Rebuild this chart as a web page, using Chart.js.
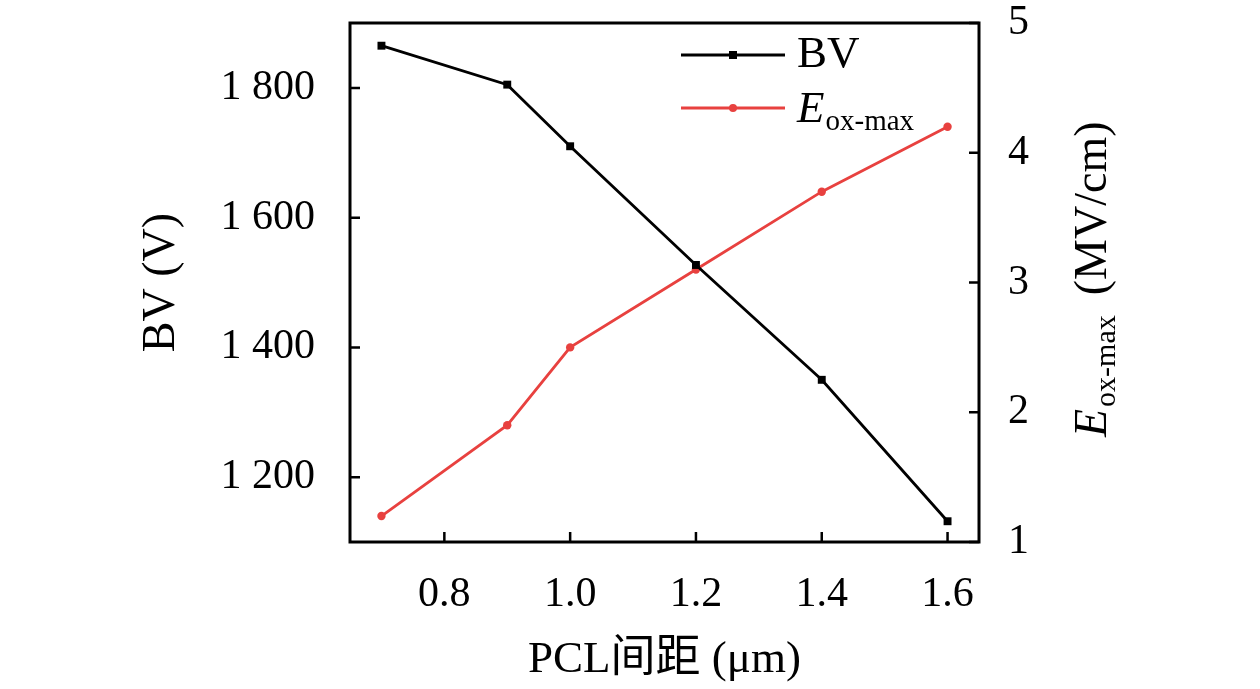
<!DOCTYPE html>
<html>
<head>
<meta charset="utf-8">
<script src="https://cdn.jsdelivr.net/npm/chart.js@4"></script>
<style>
  html, body { margin: 0; padding: 0; background: #fff; }
  #chart { display: block; }
</style>
</head>
<body>
<canvas id="chart" width="1260" height="689"></canvas>
<script>
// PCL spacing (um)
const spacing = [0.7, 0.9, 1.0, 1.2, 1.4, 1.6];
// breakdown voltage (V)
const bvValues = [1865, 1805, 1710, 1527, 1350, 1132];
// max oxide field (MV/cm)
const eoxValues = [1.2, 1.9, 2.5, 3.1, 3.7, 4.2];

const xTicks = [0.8, 1.0, 1.2, 1.4, 1.6];
const bvTicks = [1200, 1400, 1600, 1800];
const eoxTicks = [1, 2, 3, 4, 5];

const SERIF = '"Liberation Serif", "Noto Sans CJK SC", serif';
const RED = '#e8413f';

const fmtThousands = v => String(v).replace(/\B(?=(\d{3})+(?!\d))/g, ' ');

// frame, inward ticks, legend and right axis title
const decorPlugin = {
  id: 'decor',
  afterDraw(chart) {
    const { ctx, chartArea: a, scales } = chart;
    ctx.save();
    ctx.strokeStyle = '#000';
    ctx.lineWidth = 3;
    ctx.strokeRect(a.left, a.top, a.right - a.left, a.bottom - a.top);

    const tl = 10;
    ctx.lineWidth = 2.5;
    ctx.beginPath();
    xTicks.forEach(v => {
      const x = scales.x.getPixelForValue(v);
      ctx.moveTo(x, a.bottom); ctx.lineTo(x, a.bottom - tl);
    });
    bvTicks.forEach(v => {
      const y = scales.y.getPixelForValue(v);
      ctx.moveTo(a.left, y); ctx.lineTo(a.left + tl, y);
    });
    eoxTicks.forEach(v => {
      const y = scales.y2.getPixelForValue(v);
      ctx.moveTo(a.right, y); ctx.lineTo(a.right - tl, y);
    });
    ctx.stroke();

    // legend
    const lx0 = 681, lx1 = 785, mx = 733;
    ctx.lineWidth = 2.8;
    ctx.strokeStyle = '#000';
    ctx.beginPath(); ctx.moveTo(lx0, 55); ctx.lineTo(lx1, 55); ctx.stroke();
    ctx.fillStyle = '#000';
    ctx.fillRect(mx - 4, 55 - 4, 8, 8);
    ctx.strokeStyle = RED;
    ctx.beginPath(); ctx.moveTo(lx0, 108); ctx.lineTo(lx1, 108); ctx.stroke();
    ctx.fillStyle = RED;
    ctx.beginPath(); ctx.arc(mx, 108, 4, 0, Math.PI * 2); ctx.fill();

    ctx.fillStyle = '#000';
    ctx.textBaseline = 'alphabetic';
    ctx.textAlign = 'left';
    ctx.font = '45px ' + SERIF;
    ctx.fillText('BV', 797, 67);
    ctx.font = 'italic 45px ' + SERIF;
    ctx.fillText('E', 797, 122);
    const ew = ctx.measureText('E').width;
    ctx.font = '29px ' + SERIF;
    ctx.fillText('ox-max', 797 + ew + 1, 130);

    // right axis title, rotated
    ctx.translate(1106, 437);
    ctx.rotate(-Math.PI / 2);
    ctx.font = 'italic 46px ' + SERIF;
    ctx.fillText('E', 0, 0);
    let px = ctx.measureText('E').width + 2;
    ctx.font = '30px ' + SERIF;
    ctx.fillText('ox-max', px, 9);
    px += ctx.measureText('ox-max').width + 20;
    ctx.font = '46px ' + SERIF;
    ctx.fillText('(MV/cm)', px, 0);
    ctx.restore();
  }
};

const noPad = s => { s.paddingTop = 0; s.paddingBottom = 0; };

new Chart(document.getElementById('chart'), {
  type: 'line',
  data: {
    datasets: [
      {
        label: 'BV',
        data: spacing.map((x, i) => ({ x, y: bvValues[i] })),
        yAxisID: 'y',
        borderColor: '#000',
        backgroundColor: '#000',
        borderWidth: 2.8,
        pointStyle: 'rect',
        pointRadius: 5.6,
        pointBorderWidth: 0,
        tension: 0
      },
      {
        label: 'Eox-max',
        data: spacing.map((x, i) => ({ x, y: eoxValues[i] })),
        yAxisID: 'y2',
        borderColor: RED,
        backgroundColor: RED,
        borderWidth: 2.8,
        pointStyle: 'circle',
        pointRadius: 4.2,
        pointBorderWidth: 0,
        tension: 0
      }
    ]
  },
  options: {
    responsive: false,
    animation: false,
    layout: { padding: { top: 23, left: 0, right: 0, bottom: 0 } },
    plugins: { legend: { display: false }, tooltip: { enabled: false } },
    scales: {
      x: {
        type: 'linear',
        position: 'bottom',
        min: 0.65,
        max: 1.65,
        afterBuildTicks: s => { s.ticks = xTicks.map(value => ({ value })); },
        afterFit: s => { s.height = 147; s.paddingLeft = 0; s.paddingRight = 0; },
        grid: { display: false, drawTicks: false },
        border: { display: false },
        ticks: {
          color: '#000',
          padding: 28,
          maxRotation: 0,
          font: { family: SERIF, size: 42 },
          callback: v => Number(v).toFixed(1)
        },
        title: {
          display: true,
          text: 'PCL间距 (μm)',
          color: '#000',
          padding: { top: 0, bottom: 2 },
          font: { family: SERIF, size: 45 }
        }
      },
      y: {
        position: 'left',
        min: 1100,
        max: 1900,
        afterBuildTicks: s => { s.ticks = bvTicks.map(value => ({ value })); },
        afterFit: s => { s.width = 350; noPad(s); },
        grid: { display: false, drawTicks: false },
        border: { display: false },
        ticks: {
          color: '#000',
          padding: 35,
          font: { family: SERIF, size: 42 },
          callback: v => fmtThousands(v)
        },
        title: {
          display: true,
          text: 'BV (V)',
          color: '#000',
          padding: { top: 134, bottom: 0 },
          font: { family: SERIF, size: 46 }
        }
      },
      y2: {
        position: 'right',
        min: 1,
        max: 5,
        afterBuildTicks: s => { s.ticks = eoxTicks.map(value => ({ value })); },
        afterFit: s => { s.width = 281; noPad(s); },
        grid: { display: false, drawTicks: false },
        border: { display: false },
        ticks: {
          color: '#000',
          padding: 29,
          font: { family: SERIF, size: 42 },
          callback: v => String(v)
        }
      }
    }
  },
  plugins: [decorPlugin]
});
</script>
</body>
</html>
